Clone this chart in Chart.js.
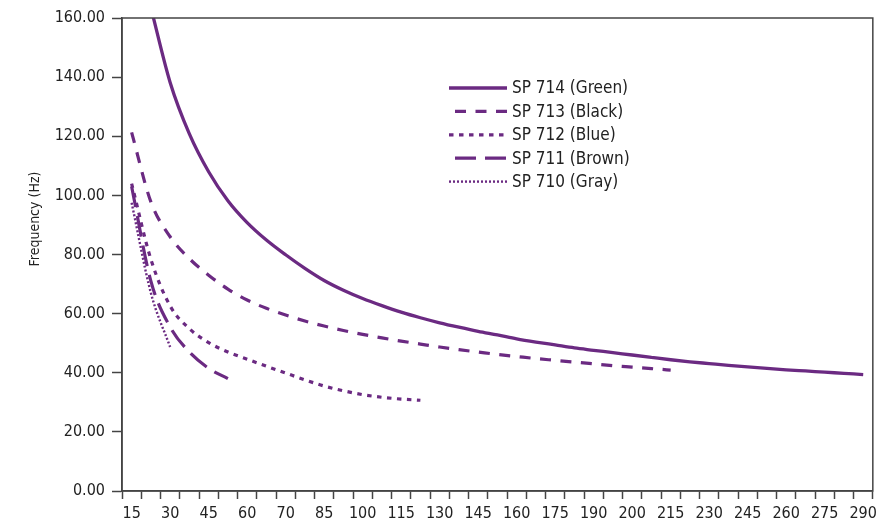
<!DOCTYPE html>
<html>
<head>
<meta charset="utf-8">
<script src="https://cdn.jsdelivr.net/npm/chart.js@4.4.0/dist/chart.umd.min.js"></script>
<style>
  html, body { margin: 0; padding: 0; background: #fff; }
  #wrap { width: 882px; height: 527px; position: relative; }
</style>
</head>
<body>
<div id="wrap"><canvas id="chart"></canvas></div>
<script>
// x categories (only every other one gets a label on the axis)
const X_LABELS = [
  "15", "22", "30", "37", "45", "52", "60", "65", "70", "77",
  "85", "92", "100", "107", "115", "122", "130", "137", "145", "152",
  "160", "167", "175", "182", "190", "195", "200", "207", "215", "222",
  "230", "237", "245", "252", "260", "267", "275", "282", "290",
];

const Y_TICKS = [0, 20, 40, 60, 80, 100, 120, 140, 160];

const SERIES_NAMES = [
  "SP 714 (Green)",
  "SP 713 (Black)",
  "SP 712 (Blue)",
  "SP 711 (Brown)",
  "SP 710 (Gray)",
];

const SP714 = [
  null, 163.5, 138.2, 120.8, 108, 98.2, 90.8, 84.9, 79.9, 75.3,
  71.2, 67.9, 65.1, 62.7, 60.5, 58.6, 56.9, 55.4, 54.0, 52.8,
  51.5, 50.4, 49.4, 48.4, 47.6, 46.8, 46.0, 45.2, 44.4, 43.7,
  43.1, 42.5, 42.0, 41.5, 41.0, 40.6, 40.2, 39.8, 39.4,
];
const SP713 = [
  121.3, 97.8, 86.0, 78.6, 73.0, 68.3, 64.6, 61.8, 59.5, 57.5,
  55.8, 54.3, 53.0, 51.8, 50.7, 49.7, 48.7, 47.8, 47.0, 46.2,
  45.5, 44.8, 44.2, 43.6, 43.0, 42.4, 41.9, 41.4, 40.9,
];
const SP712 = [
  104, 78.4, 62.6, 54.9, 50.2, 47.0, 44.6, 42.2, 39.9, 37.6,
  35.5, 33.9, 32.6, 31.7, 31.1, 30.7,
];
const SP711 = [103, 71, 55.5, 47, 41.5, 38];
const SP710 = [97.5, 67, 48.7];

const PURPLE = "#6b2a82";
const INK = "#222222";
const FRAME = "#444444";
const FONT = '"Liberation Sans Narrow", "DejaVu Sans Condensed", "Arial Narrow", sans-serif';

function makeDataset(label, data, width, dash, legendOffset) {
  return {
    label,
    data,
    borderColor: PURPLE,
    backgroundColor: PURPLE,
    borderWidth: width,
    borderDash: dash,
    legendDashOffset: legendOffset,
    borderCapStyle: "butt",
    pointRadius: 0,
    pointHoverRadius: 0,
    cubicInterpolationMode: "monotone",
    fill: false,
    spanGaps: false,
  };
}

// plot frame on all four sides
const framePlugin = {
  id: "frame",
  afterDraw(chart) {
    const { ctx, chartArea } = chart;
    ctx.save();
    ctx.strokeStyle = FRAME;
    ctx.lineWidth = 1.5;
    ctx.strokeRect(chartArea.left, chartArea.top,
      chartArea.right - chartArea.left, chartArea.bottom - chartArea.top);
    ctx.restore();
  },
};

// legend with dashed samples, drawn inside the plot
const legendPlugin = {
  id: "dashLegend",
  afterDraw(chart) {
    const ctx = chart.ctx;
    ctx.save();
    chart.data.datasets.forEach((ds, i) => {
      const y = 88 + i * 23.4;
      ctx.strokeStyle = ds.borderColor;
      ctx.lineWidth = ds.borderWidth;
      ctx.lineCap = "butt";
      ctx.setLineDash(ds.borderDash || []);
      ctx.lineDashOffset = ds.legendDashOffset || 0;
      ctx.beginPath();
      ctx.moveTo(449, y);
      ctx.lineTo(507, y);
      ctx.stroke();
      ctx.setLineDash([]);
      ctx.fillStyle = INK;
      ctx.font = `17px ${FONT}`;
      ctx.textAlign = "left";
      ctx.textBaseline = "middle";
      ctx.fillText(ds.label, 512, y + 1);
    });
    ctx.restore();
  },
};

// y title sits a bit above the middle of the axis
const yTitlePlugin = {
  id: "yTitle",
  afterDraw(chart) {
    const ctx = chart.ctx;
    const y = chart.scales.y.getPixelForValue(92);
    ctx.save();
    ctx.translate(35, y);
    ctx.rotate(-Math.PI / 2);
    ctx.fillStyle = INK;
    ctx.font = `14px ${FONT}`;
    ctx.textAlign = "center";
    ctx.textBaseline = "middle";
    ctx.fillText("Frequency (Hz)", 0, 0);
    ctx.restore();
  },
};

Chart.defaults.font.family = FONT;
Chart.defaults.font.size = 16;
Chart.defaults.color = INK;

new Chart(document.getElementById("chart"), {
  type: "line",
  data: {
    labels: X_LABELS,
    datasets: [
      makeDataset(SERIES_NAMES[0], SP714, 3.3, [], 0),
      makeDataset(SERIES_NAMES[1], SP713, 3.2, [11, 9.5], 14.5),
      makeDataset(SERIES_NAMES[2], SP712, 3.2, [4.5, 5.5], 0),
      makeDataset(SERIES_NAMES[3], SP711, 3.2, [21, 9], 24),
      makeDataset(SERIES_NAMES[4], SP710, 2.4, [2, 2], 0),
    ],
  },
  options: {
    responsive: true,
    maintainAspectRatio: false,
    animation: false,
    layout: {
      padding: { left: 0, right: 5, top: 18, bottom: 0 },
    },
    plugins: {
      legend: { display: false },
      tooltip: { enabled: false },
    },
    scales: {
      x: {
        type: "category",
        offset: true,
        afterFit(scale) {
          scale.height = 36;
        },
        grid: {
          offset: true,
          drawOnChartArea: false,
          drawTicks: true,
          tickLength: 8,
          tickColor: FRAME,
          tickWidth: 1.5,
        },
        border: { display: true, color: FRAME, width: 1.5 },
        ticks: {
          autoSkip: false,
          maxRotation: 0,
          minRotation: 0,
          padding: 5,
          color: INK,
          font: { size: 16 },
          callback(value, index) {
            return index % 2 === 0 ? X_LABELS[index] : "";
          },
        },
      },
      y: {
        min: 0,
        max: 160,
        afterBuildTicks(scale) {
          scale.ticks = Y_TICKS.map((v) => ({ value: v }));
        },
        afterFit(scale) {
          scale.width = 122;
        },
        grid: {
          drawOnChartArea: false,
          drawTicks: true,
          tickLength: 10,
          tickColor: FRAME,
          tickWidth: 1.5,
        },
        border: { display: true, color: FRAME, width: 1.5 },
        ticks: {
          padding: 7,
          color: INK,
          font: { size: 16 },
          callback(value) {
            return Number(value).toFixed(2);
          },
        },
      },
    },
  },
  plugins: [framePlugin, legendPlugin, yTitlePlugin],
});
</script>
</body>
</html>
